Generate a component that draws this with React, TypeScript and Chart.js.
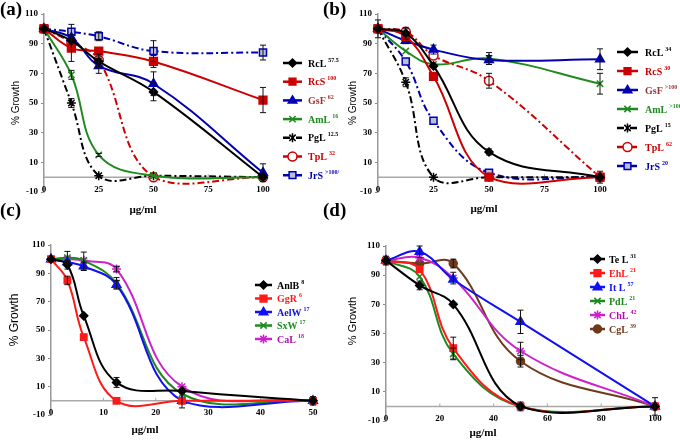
import React, { useEffect, useRef } from 'react';
import { Chart, registerables } from 'chart.js';
Chart.register(...registerables);

// ---------- DATA ----------
const yTicks = [-10, 10, 30, 50, 70, 90, 110];

// Panel (a)
const xA = [0, 12.5, 25, 50, 100];
const xTicksA = [0, 25, 50, 75, 100];
const a_RcL = [100, 92, 78, 57.5, 0];
const a_RcL_err = [0, 2, 3, 6, 0];
const a_RcS = [100, 87, 85, 78, 52];
const a_RcS_err = [0, 9, 0, 4, 8.5];
const a_GsF = [100, 94, 75, 63, 3];
const a_GsF_err = [0, 0, 5, 8, 6];
const a_AmL = [100, 69, 15, 1, 0];
const a_AmL_err = [0, 3, 1, 0, 0];
const a_PgL = [100, 50, 1, 1, 0];
const a_PgL_err = [0, 3, 0, 0, 0];
const a_TpL = [100, 91, 79, 0, 0];
const a_TpL_err = [0, 0, 4, 0, 0];
const a_JrS = [100, 98, 95, 85, 84];
const a_JrS_err = [0, 5, 3, 7, 5];
const namesA = ['RcL', 'RcS', 'GsF', 'AmL', 'PgL', 'TpL', 'JrS'];
const supsA = ['57.5', '100', '62', '16', '12.5', '32', '>100/'];

// Panel (b)
const xB = [0, 12.5, 25, 50, 100];
const xTicksB = [0, 25, 50, 75, 100];
const b_RcL = [100, 97, 75, 17, 0];
const b_RcL_err = [0, 4, 0, 2, 4];
const b_RcS = [100, 95, 68, 0, 0];
const b_RcS_err = [0, 5, 0, 0, 0];
const b_GsF = [100, 92, 86, 79, 79.5];
const b_GsF_err = [0, 0, 3, 3, 7];
const b_AmL = [100, 85, 76, 80, 63];
const b_AmL_err = [0, 0, 0, 4, 7];
const b_PgL = [100, 64, 0, 0, 0];
const b_PgL_err = [0, 3, 0, 0, 0];
const b_TpL = [100, 98, 82, 65, 0];
const b_TpL_err = [6, 0, 0, 5, 0];
const b_JrS = [100, 78, 38, 3, 0];
const b_JrS_err = [0, 0, 0, 0, 0];
const namesB = ['RcL', 'RcS', 'GsF', 'AmL', 'PgL', 'TpL', 'JrS'];
const supsB = ['34', '30', '>100', '>100', '15', '62', '20'];

// Panel (c)
const xC = [0, 3.125, 6.25, 12.5, 25, 50];
const xTicksC = [0, 10, 20, 30, 40, 50];
const c_AnlB = [100, 96, 60, 13, 7, 0];
const c_AnlB_err = [0, 3, 0, 3.5, 0, 0];
const c_GgR = [100, 85, 45, 0, 0, 0];
const c_GgR_err = [0, 3, 0, 0, 0, 0];
const c_AelW = [100, 98, 95, 82, 0, 0];
const c_AelW_err = [0, 0, 3, 3, 5, 3];
const c_SxW = [100, 101, 99, 83, 5, 0];
const c_SxW_err = [0, 4.5, 0, 4, 0, 0];
const c_CaL = [100, 100, 99, 93, 10, 0];
const c_CaL_err = [0, 0, 6, 2, 0, 0];
const namesC = ['AnlB', 'GgR', 'AelW', 'SxW', 'CaL'];
const supsC = ['8', '6', '17', '17', '18'];

// Panel (d)
const xD = [0, 12.5, 25, 50, 100];
const xTicksD = [0, 20, 40, 60, 80, 100];
const d_TeL = [100, 83, 70, 0, 0];
const d_TeL_err = [3, 3, 1, 3, 0];
const d_EhL = [100, 94, 40, 0, 0];
const d_EhL_err = [0, 0, 7.5, 0, 0];
const d_ItL = [100, 106, 87, 58, 0];
const d_ItL_err = [0, 4, 0, 8, 6];
const d_PdL = [100, 89, 36, 0, 0];
const d_PdL_err = [0, 0, 4, 0, 0];
const d_ChL = [100, 102, 88, 38, 0];
const d_ChL_err = [0, 0, 4, 6, 0];
const d_CgL = [100, 98, 98, 31, 0];
const d_CgL_err = [0, 0, 3, 4, 0];
const namesD = ['Te L', 'EhL', 'It L', 'PdL', 'ChL', 'CgL'];
const supsD = ['31', '21', '57', '21', '42', '39'];

// ---------- STYLES ----------
const SERIF = "'Liberation Serif', 'Times New Roman', serif";
const SANS = "'Liberation Sans', Arial, sans-serif";
const DASHDOT = [7, 3, 2, 3];
const BLACK = '#000000';
const RED1 = '#cc0000';
const BLUE1 = '#0000b0';
const GREEN = '#1f8a1f';
const RED2 = '#ff1a1a';
const BLUE2 = '#1010f0';
const MAG = '#cc22cc';
const BROWN = '#6e3a1c';

type S = {
  name: string; sup: string; values: number[]; err: number[];
  color: string; text: string; marker: string; radius: number; dash?: boolean; fill?: string;
};
type Spec = {
  x: number[]; xTicks: number[]; xMax: number; series: S[];
  area: { left: number; right: number; top: number; bottom: number };
  label: string; labelPos: [number, number];
  yTitle: [number, number, number]; xTitle: [number, number];
  legend: { x0: number; x1: number; tx: number; y0: number; dy: number };
};

const specA: Spec = {
  x: xA, xTicks: xTicksA, xMax: 100,
  area: { left: 44, right: 263, top: 14, bottom: 192 },
  label: '(a)', labelPos: [0, 15], yTitle: [16, 103, 10], xTitle: [143, 210],
  legend: { x0: 283, x1: 302, tx: 308, y0: 63, dy: 18.7 },
  series: [
    { name: namesA[0], sup: supsA[0], values: a_RcL, err: a_RcL_err, color: BLACK, text: BLACK, marker: 'rectRot', radius: 4 },
    { name: namesA[1], sup: supsA[1], values: a_RcS, err: a_RcS_err, color: RED1, text: RED1, marker: 'rect', radius: 5.5 },
    { name: namesA[2], sup: supsA[2], values: a_GsF, err: a_GsF_err, color: BLUE1, text: '#993333', marker: 'triangle', radius: 5 },
    { name: namesA[3], sup: supsA[3], values: a_AmL, err: a_AmL_err, color: GREEN, text: GREEN, marker: 'crossRot', radius: 4.5 },
    { name: namesA[4], sup: supsA[4], values: a_PgL, err: a_PgL_err, color: BLACK, text: BLACK, marker: 'star', radius: 4.5, dash: true },
    { name: namesA[5], sup: supsA[5], values: a_TpL, err: a_TpL_err, color: RED1, text: RED1, marker: 'circle', radius: 4.5, dash: true, fill: '#ffffff' },
    { name: namesA[6], sup: supsA[6], values: a_JrS, err: a_JrS_err, color: BLUE1, text: BLUE1, marker: 'rect', radius: 5, dash: true, fill: '#b8c0d8' },
  ],
};

const specB: Spec = {
  x: xB, xTicks: xTicksB, xMax: 100,
  area: { left: 378, right: 600, top: 14, bottom: 192 },
  label: '(b)', labelPos: [323, 15], yTitle: [353, 103, 10], xTitle: [484, 209],
  legend: { x0: 617, x1: 638, tx: 645, y0: 52, dy: 19 },
  series: [
    { name: namesB[0], sup: supsB[0], values: b_RcL, err: b_RcL_err, color: BLACK, text: BLACK, marker: 'rectRot', radius: 4 },
    { name: namesB[1], sup: supsB[1], values: b_RcS, err: b_RcS_err, color: RED1, text: RED1, marker: 'rect', radius: 5.5 },
    { name: namesB[2], sup: supsB[2], values: b_GsF, err: b_GsF_err, color: BLUE1, text: '#993333', marker: 'triangle', radius: 5 },
    { name: namesB[3], sup: supsB[3], values: b_AmL, err: b_AmL_err, color: GREEN, text: GREEN, marker: 'crossRot', radius: 4.5 },
    { name: namesB[4], sup: supsB[4], values: b_PgL, err: b_PgL_err, color: BLACK, text: BLACK, marker: 'star', radius: 4.5, dash: true },
    { name: namesB[5], sup: supsB[5], values: b_TpL, err: b_TpL_err, color: RED1, text: RED1, marker: 'circle', radius: 4.5, dash: true, fill: '#ffffff' },
    { name: namesB[6], sup: supsB[6], values: b_JrS, err: b_JrS_err, color: BLUE1, text: BLUE1, marker: 'rect', radius: 5, dash: true, fill: '#b8c0d8' },
  ],
};

const specC: Spec = {
  x: xC, xTicks: xTicksC, xMax: 50,
  area: { left: 51, right: 313, top: 245, bottom: 415 },
  label: '(c)', labelPos: [0, 216], yTitle: [15, 320, 12], xTitle: [145, 430],
  legend: { x0: 255, x1: 272, tx: 277, y0: 285, dy: 13.5 },
  series: [
    { name: namesC[0], sup: supsC[0], values: c_AnlB, err: c_AnlB_err, color: BLACK, text: BLACK, marker: 'rectRot', radius: 4 },
    { name: namesC[1], sup: supsC[1], values: c_GgR, err: c_GgR_err, color: RED2, text: RED2, marker: 'rect', radius: 4.5 },
    { name: namesC[2], sup: supsC[2], values: c_AelW, err: c_AelW_err, color: BLUE2, text: BLUE2, marker: 'triangle', radius: 5 },
    { name: namesC[3], sup: supsC[3], values: c_SxW, err: c_SxW_err, color: GREEN, text: GREEN, marker: 'crossRot', radius: 4.5 },
    { name: namesC[4], sup: supsC[4], values: c_CaL, err: c_CaL_err, color: MAG, text: '#b010b0', marker: 'star', radius: 4.5 },
  ],
};

const specD: Spec = {
  x: xD, xTicks: xTicksD, xMax: 100,
  area: { left: 386, right: 655, top: 246, bottom: 421 },
  label: '(d)', labelPos: [323, 216], yTitle: [353, 321, 11], xTitle: [483, 433],
  legend: { x0: 590, x1: 605, tx: 609, y0: 259, dy: 14 },
  series: [
    { name: namesD[0], sup: supsD[0], values: d_TeL, err: d_TeL_err, color: BLACK, text: BLACK, marker: 'rectRot', radius: 4 },
    { name: namesD[1], sup: supsD[1], values: d_EhL, err: d_EhL_err, color: RED2, text: RED2, marker: 'rect', radius: 4.5 },
    { name: namesD[2], sup: supsD[2], values: d_ItL, err: d_ItL_err, color: BLUE2, text: BLUE2, marker: 'triangle', radius: 5 },
    { name: namesD[3], sup: supsD[3], values: d_PdL, err: d_PdL_err, color: GREEN, text: GREEN, marker: 'crossRot', radius: 4.5 },
    { name: namesD[4], sup: supsD[4], values: d_ChL, err: d_ChL_err, color: MAG, text: '#b010b0', marker: 'star', radius: 4.5 },
    { name: namesD[5], sup: supsD[5], values: d_CgL, err: d_CgL_err, color: BROWN, text: BROWN, marker: 'circle', radius: 4 },
  ],
};

// ---------- DRAW HELPERS ----------
function drawMarker(ctx: CanvasRenderingContext2D, style: string, x: number, y: number, r: number, stroke: string, fill: string) {
  ctx.save();
  ctx.strokeStyle = stroke; ctx.fillStyle = fill; ctx.lineWidth = 1.5; ctx.setLineDash([]);
  ctx.beginPath();
  if (style === 'circle') { ctx.arc(x, y, r, 0, Math.PI * 2); ctx.fill(); ctx.stroke(); }
  else if (style === 'rect') { const s = r * 0.75; ctx.rect(x - s, y - s, 2 * s, 2 * s); ctx.fill(); ctx.stroke(); }
  else if (style === 'rectRot') { ctx.moveTo(x, y - r); ctx.lineTo(x + r, y); ctx.lineTo(x, y + r); ctx.lineTo(x - r, y); ctx.closePath(); ctx.fill(); ctx.stroke(); }
  else if (style === 'triangle') { ctx.moveTo(x, y - r); ctx.lineTo(x + r * 0.95, y + r * 0.6); ctx.lineTo(x - r * 0.95, y + r * 0.6); ctx.closePath(); ctx.fill(); ctx.stroke(); }
  else if (style === 'crossRot') { const s = r * 0.7; ctx.moveTo(x - s, y - s); ctx.lineTo(x + s, y + s); ctx.moveTo(x + s, y - s); ctx.lineTo(x - s, y + s); ctx.stroke(); }
  else if (style === 'star') { const s = r * 0.7; ctx.moveTo(x - s, y - s); ctx.lineTo(x + s, y + s); ctx.moveTo(x + s, y - s); ctx.lineTo(x - s, y + s); ctx.moveTo(x, y - r); ctx.lineTo(x, y + r); ctx.stroke(); }
  ctx.restore();
}

const errorBars = {
  id: 'errorBars',
  afterDatasetsDraw(chart: any) {
    const ctx = chart.ctx; const ys = chart.scales.y;
    chart.data.datasets.forEach((ds: any, i: number) => {
      const errs = ds.errors; if (!errs) return;
      const meta = chart.getDatasetMeta(i);
      meta.data.forEach((pt: any, j: number) => {
        const e = errs[j]; if (!e) return;
        const v = ds.data[j].y;
        const x = pt.x; const y1 = ys.getPixelForValue(v + e); const y2 = ys.getPixelForValue(v - e);
        ctx.save(); ctx.strokeStyle = '#111'; ctx.lineWidth = 1; ctx.setLineDash([]);
        ctx.beginPath();
        ctx.moveTo(x, y1); ctx.lineTo(x, y2);
        ctx.moveTo(x - 3, y1); ctx.lineTo(x + 3, y1);
        ctx.moveTo(x - 3, y2); ctx.lineTo(x + 3, y2);
        ctx.stroke(); ctx.restore();
      });
    });
  },
};

function makeDeco(spec: Spec) {
  return {
    id: 'deco',
    beforeDatasetsDraw(chart: any) {
      const ctx = chart.ctx; const ys = chart.scales.y; const xs = chart.scales.x; const a = chart.chartArea;
      const y0 = ys.getPixelForValue(0);
      ctx.save(); ctx.strokeStyle = '#a8a8a8'; ctx.lineWidth = 1.5;
      ctx.beginPath(); ctx.moveTo(a.left, y0); ctx.lineTo(a.right, y0); ctx.stroke();
      // small tick marks on the horizontal axis line
      ctx.lineWidth = 1;
      ctx.beginPath();
      spec.xTicks.forEach((v) => { const px = xs.getPixelForValue(v); ctx.moveTo(px, y0); ctx.lineTo(px, y0 - 3); });
      ctx.stroke();
      ctx.restore();
    },
    afterDraw(chart: any) {
      const ctx = chart.ctx; const xs = chart.scales.x; const a = chart.chartArea;
      ctx.save();
      // x tick labels (sit on the bottom edge of the plot)
      ctx.fillStyle = '#000'; ctx.font = `bold 9px ${SERIF}`; ctx.textAlign = 'center'; ctx.textBaseline = 'middle';
      spec.xTicks.forEach((v) => ctx.fillText(String(v), xs.getPixelForValue(v), a.bottom - 2));
      // panel label
      ctx.font = `bold 19px ${SERIF}`; ctx.textAlign = 'left'; ctx.textBaseline = 'alphabetic';
      ctx.fillText(spec.label, spec.labelPos[0], spec.labelPos[1]);
      // x title
      ctx.font = `bold 11px ${SERIF}`; ctx.textAlign = 'center'; ctx.textBaseline = 'middle';
      ctx.fillText('µg/ml', spec.xTitle[0], spec.xTitle[1]);
      // y title
      ctx.save(); ctx.translate(spec.yTitle[0], spec.yTitle[1]); ctx.rotate(-Math.PI / 2);
      ctx.font = `${spec.yTitle[2]}px ${SANS}`; ctx.fillText('% Growth', 0, 0); ctx.restore();
      // legend
      const L = spec.legend;
      spec.series.forEach((s, i) => {
        const y = L.y0 + i * L.dy;
        ctx.save(); ctx.strokeStyle = s.color; ctx.lineWidth = 2.5; ctx.setLineDash(s.dash ? [7, 2, 2, 2] : []);
        ctx.beginPath(); ctx.moveTo(L.x0, y); ctx.lineTo(L.x1, y); ctx.stroke(); ctx.restore();
        drawMarker(ctx, s.marker, (L.x0 + L.x1) / 2, y, Math.min(s.radius, 4.5), s.color, s.fill ?? s.color);
        ctx.fillStyle = s.text; ctx.textAlign = 'left'; ctx.textBaseline = 'middle';
        ctx.font = `bold 10px ${SERIF}`;
        ctx.fillText(s.name, L.tx, y + 1);
        const w = ctx.measureText(s.name).width;
        ctx.font = `bold 6px ${SERIF}`;
        ctx.fillText(s.sup, L.tx + w + 2, y - 3);
      });
      ctx.restore();
    },
  };
}

function makeConfig(spec: Spec): any {
  const XH = 12;
  const tickFont = { family: SERIF, size: 9, weight: 'bold' as const };
  return {
    type: 'line',
    data: {
      datasets: spec.series.map((s) => ({
        label: s.name,
        data: spec.x.map((x, i) => ({ x, y: s.values[i] })),
        errors: s.err,
        borderColor: s.color,
        backgroundColor: s.fill ?? s.color,
        borderWidth: 2,
        borderDash: s.dash ? DASHDOT : [],
        pointStyle: s.marker,
        pointRadius: s.radius,
        pointBorderColor: s.color,
        pointBackgroundColor: s.fill ?? s.color,
        pointBorderWidth: 1.5,
        tension: 0.4,
        clip: false,
      })),
    },
    options: {
      responsive: false,
      animation: false,
      events: [],
      layout: {
        padding: {
          left: 0,
          top: spec.area.top,
          right: 680 - spec.area.right,
          bottom: 441 - spec.area.bottom - XH,
        },
      },
      plugins: { legend: { display: false }, tooltip: { enabled: false } },
      scales: {
        x: {
          type: 'linear', min: 0, max: spec.xMax,
          afterBuildTicks: (sc: any) => { sc.ticks = spec.xTicks.map((v) => ({ value: v })); },
          afterFit: (sc: any) => { sc.height = XH; },
          grid: { display: false, drawTicks: false },
          border: { display: false },
          ticks: { display: false },
        },
        y: {
          type: 'linear', min: -10, max: 110,
          afterBuildTicks: (sc: any) => { sc.ticks = yTicks.map((v) => ({ value: v })); },
          afterFit: (sc: any) => { sc.width = spec.area.left; },
          grid: { display: true, drawOnChartArea: false, drawTicks: true, tickLength: 3, tickColor: '#888' },
          border: { display: true, color: '#999', width: 1.5 },
          ticks: { font: tickFont, color: '#000', padding: 3 },
        },
      },
    },
    plugins: [errorBars, makeDeco(spec)],
  };
}

function Panel({ spec }: { spec: Spec }) {
  const ref = useRef<HTMLCanvasElement | null>(null);
  useEffect(() => {
    if (!ref.current) return;
    const chart = new Chart(ref.current, makeConfig(spec));
    return () => chart.destroy();
  }, [spec]);
  return (
    <canvas
      ref={ref}
      width={680}
      height={441}
      style={{ position: 'absolute', left: 0, top: 0, width: 680, height: 441 }}
    />
  );
}

export default function App() {
  return (
    <div style={{ position: 'absolute', left: 0, top: 0, width: 680, height: 441, background: '#fff', overflow: 'hidden' }}>
      <Panel spec={specA} />
      <Panel spec={specB} />
      <Panel spec={specC} />
      <Panel spec={specD} />
    </div>
  );
}
